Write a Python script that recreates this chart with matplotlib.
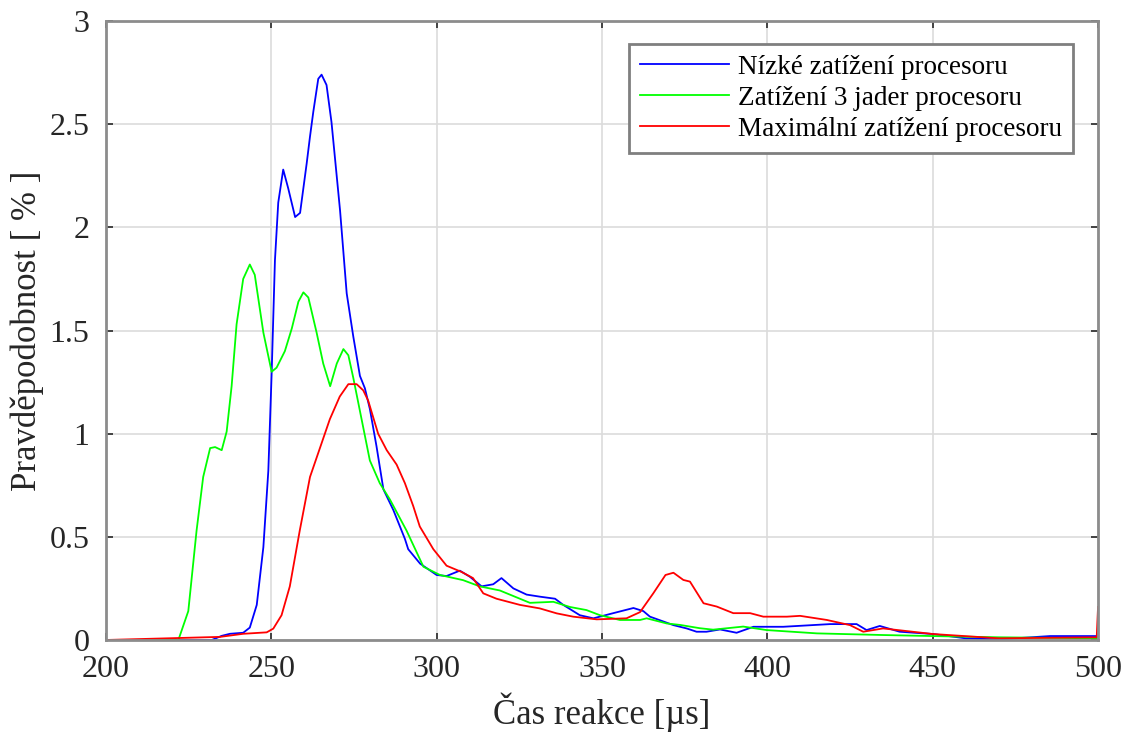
import matplotlib.pyplot as plt

plt.rcParams['font.family'] = ['Liberation Serif', 'DejaVu Serif']

# Nízké zatížení procesoru
blue_x = [200, 232, 235, 237.5, 241.5, 243.5, 245.6, 247.6, 249.1, 250.1, 251.1, 252.1, 253.6,
          255.1, 257.2, 258.7, 260.7, 261.7, 262.7, 264.2, 265.2, 266.7, 268.2, 270.8, 272.8,
          274.8, 276.8, 278.3, 279.8, 281.8, 283.9, 286.9, 290.4, 291.4, 295, 300, 303, 307,
          310, 313.6, 317.1, 319.6, 323.2, 327.2, 331.2, 335.8, 338.3, 343.3, 347.4, 353.4,
          359.5, 362.5, 364.5, 368.5, 371.6, 375.6, 378.6, 381.6, 385.7, 390.7, 395.8, 404.8,
          419, 427, 430, 434, 440, 450, 460, 470, 485.5, 500]
blue_y = [0, 0, 0.02, 0.03, 0.035, 0.06, 0.17, 0.45, 0.82, 1.29, 1.84, 2.12, 2.28,
          2.19, 2.05, 2.07, 2.31, 2.44, 2.56, 2.72, 2.74, 2.69, 2.51, 2.08, 1.68,
          1.47, 1.28, 1.22, 1.12, 0.94, 0.73, 0.63, 0.49, 0.44, 0.37, 0.315, 0.31, 0.336,
          0.307, 0.26, 0.27, 0.30, 0.25, 0.22, 0.21, 0.20, 0.17, 0.12, 0.105, 0.13,
          0.155, 0.14, 0.113, 0.09, 0.072, 0.056, 0.04, 0.04, 0.051, 0.035, 0.064, 0.064,
          0.077, 0.077, 0.048, 0.068, 0.04, 0.029, 0.008, 0.003, 0.019, 0.019]

# Zatížení 3 jader procesoru
green_x = [200, 221.9, 224.9, 227.4, 229.4, 231.5, 233, 235, 236.5, 238, 239.5, 241.5, 243.5,
           245, 247.6, 250.1, 251.6, 254.1, 256.2, 258.2, 259.7, 261.2, 263.7, 265.7, 267.8,
           269.8, 271.8, 273.3, 274.8, 277.8, 279.8, 282.8, 285.9, 290.9, 296, 301, 308, 313,
           319.1, 328.2, 335.3, 340.3, 345.3, 349.4, 355.4, 361.5, 363.5, 369.6, 373.6, 379.6,
           383.6, 392.7, 399.8, 415, 435, 450, 470, 500]
green_y = [0, 0, 0.14, 0.53, 0.79, 0.93, 0.935, 0.92, 1.01, 1.23, 1.53, 1.75, 1.82,
           1.77, 1.49, 1.30, 1.32, 1.40, 1.51, 1.64, 1.685, 1.66, 1.49, 1.34, 1.23,
           1.34, 1.41, 1.38, 1.27, 1.03, 0.87, 0.76, 0.68, 0.53, 0.355, 0.315, 0.29, 0.26,
           0.24, 0.18, 0.185, 0.16, 0.145, 0.12, 0.097, 0.097, 0.105, 0.08, 0.073, 0.057,
           0.05, 0.065, 0.048, 0.032, 0.024, 0.019, 0.013, 0.008]

# Maximální zatížení procesoru
red_x = [200, 234.5, 241.5, 248.6, 250.6, 253.1, 255.6, 258.6, 261.7, 264.7, 267.7, 270.7,
         273.3, 275.8, 277.8, 279.3, 282.3, 284.9, 287.9, 290.4, 292.9, 294.9, 299, 303,
         307.5, 311, 314.1, 318.1, 325.2, 331.2, 336.3, 341.3, 348.4, 357.4, 361.5, 365.5,
         369.2, 371.6, 374.6, 376.6, 380.7, 384.7, 389.7, 394.8, 398.8, 405.9, 409.9, 418,
         425, 429, 435, 450, 470, 499.6, 500]
red_y = [0, 0.015, 0.03, 0.037, 0.055, 0.12, 0.26, 0.53, 0.79, 0.93, 1.07, 1.18,
         1.24, 1.24, 1.21, 1.16, 1.0, 0.92, 0.85, 0.76, 0.65, 0.55, 0.44, 0.36,
         0.33, 0.30, 0.226, 0.20, 0.17, 0.153, 0.129, 0.113, 0.1, 0.105, 0.135, 0.226,
         0.315, 0.326, 0.291, 0.283, 0.178, 0.162, 0.13, 0.13, 0.113, 0.113, 0.117, 0.097,
         0.072, 0.04, 0.056, 0.029, 0.008, 0.013, 0.16]

labels = ["Nízké zatížení procesoru", "Zatížení 3 jader procesoru", "Maximální zatížení procesoru"]

fig = plt.figure(figsize=(11.32, 7.33), dpi=100)
ax = fig.add_axes([0.0936, 0.1269, 0.8764, 0.8444])

ax.plot(blue_x, blue_y, color='#0000ff', lw=1.3, label=labels[0])
ax.plot(green_x, green_y, color='#00ff00', lw=1.3, label=labels[1])
ax.plot(red_x, red_y, color='#ff0000', lw=1.3, label=labels[2])

ax.set_xlim(200, 500)
ax.set_ylim(0, 3)
ax.set_xticks([200, 250, 300, 350, 400, 450, 500])
ax.set_yticks([0, 0.5, 1, 1.5, 2, 2.5, 3])
ax.set_yticklabels(["0", "0.5", "1", "1.5", "2", "2.5", "3"])
ax.grid(True, color='#dcdcdc', lw=1.2)
ax.set_axisbelow(True)

for s in ax.spines.values():
    s.set_color('#8c8c8c')
    s.set_linewidth(2)
ax.tick_params(direction='in', length=5, width=1.2, color='#262626', labelcolor='#262626',
               labelsize=23, top=True, right=True)
ax.tick_params(axis='x', pad=11)
ax.tick_params(axis='y', pad=12)

ax.set_xlabel("Čas reakce [µs]", fontsize=25, color='#262626', labelpad=6)
ax.set_ylabel("Pravděpodobnost [ % ]", fontsize=25, color='#262626', labelpad=4)

leg = ax.legend(loc='upper right', bbox_to_anchor=(0.975, 0.963), borderaxespad=0,
                fontsize=19.5, fancybox=False, framealpha=1, edgecolor='#7f7f7f',
                handlelength=3.3, handletextpad=0.35, labelspacing=0.22, borderpad=0.4)
leg.get_frame().set_linewidth(2)

fig.savefig("out.png", dpi=100)
